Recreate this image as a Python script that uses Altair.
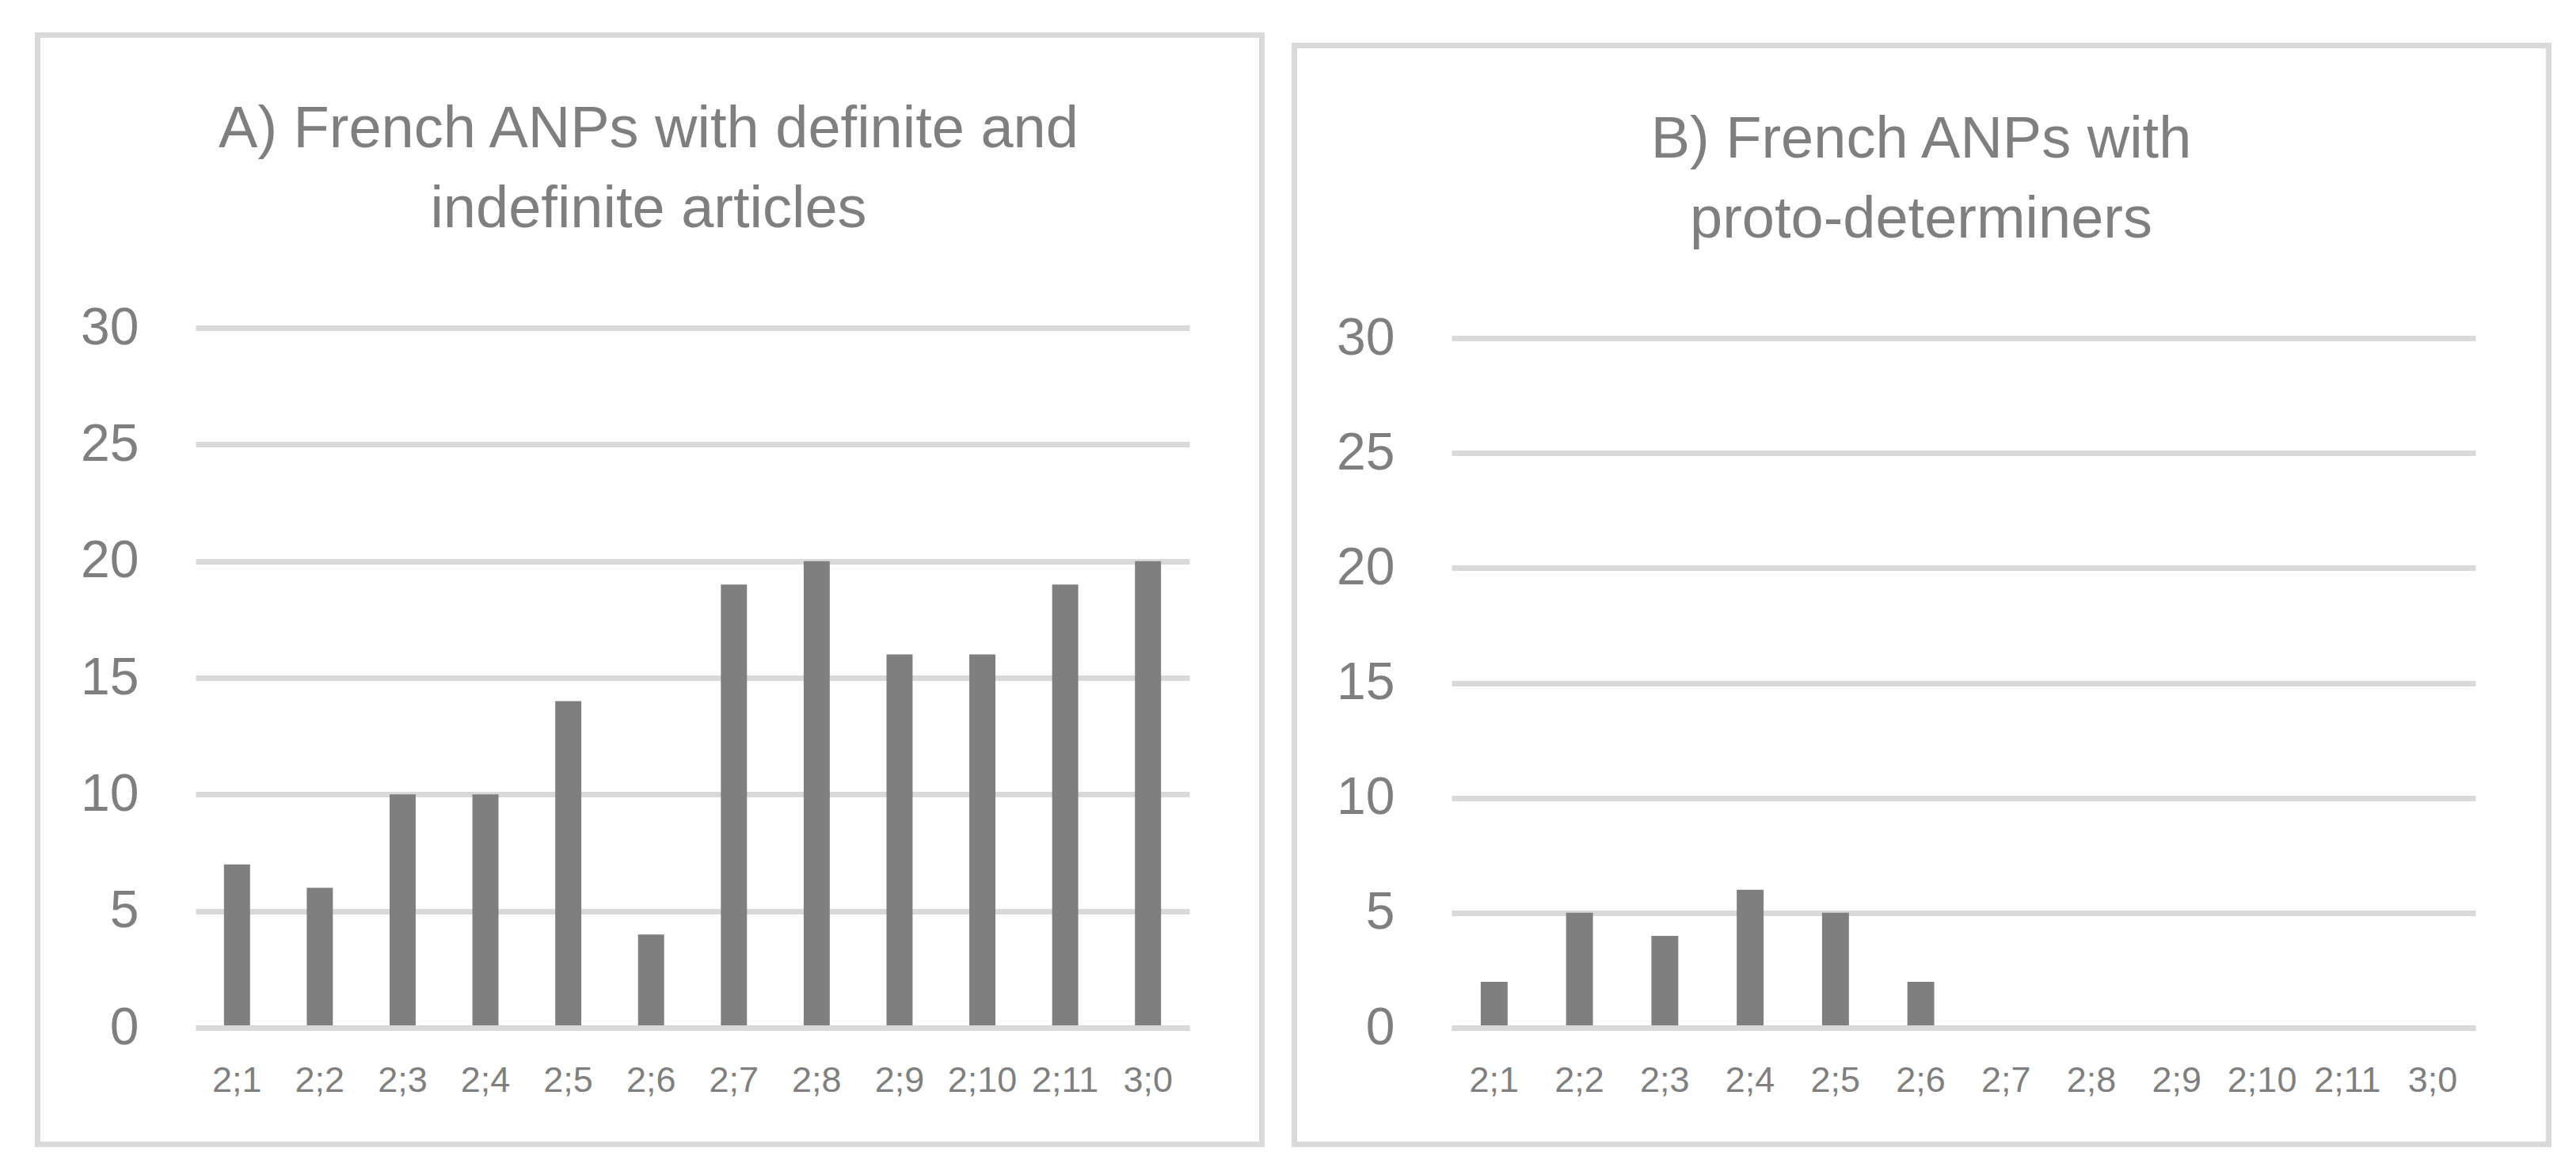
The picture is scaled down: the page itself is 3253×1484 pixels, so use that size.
import altair as alt
import pandas as pd

# ---- data ----
ages = ["2;1", "2;2", "2;3", "2;4", "2;5", "2;6", "2;7", "2;8", "2;9", "2;10", "2;11", "3;0"]
counts_a = [7, 6, 10, 10, 14, 4, 19, 20, 16, 16, 19, 20]
counts_b = [2, 5, 4, 6, 5, 2, 0, 0, 0, 0, 0, 0]
title_a = ["A) French ANPs with definite and", "indefinite articles"]
title_b = ["B) French ANPs with", "proto-determiners"]
y_ticks = [0, 5, 10, 15, 20, 25, 30]

GRAY = "#7f7f7f"
LIGHT = "#d9d9d9"
FONT = "Liberation Sans"


def panel(values, title_lines, width, height, ymax, frame, title_xy):
    df = pd.DataFrame({"age": ages, "count": values})
    bars = alt.Chart(df).mark_bar(color=GRAY).encode(
        x=alt.X(
            "age:N",
            sort=ages,
            scale=alt.Scale(paddingInner=0.685, paddingOuter=0.3425),
            axis=alt.Axis(
                title=None, labelAngle=0, labelFontSize=45, labelFont=FONT,
                labelColor=GRAY, labelPadding=44, ticks=False, tickSize=0,
                domainColor=LIGHT, domainWidth=7, grid=False,
                labelOverlap=False, zindex=1,
            ),
        ),
        y=alt.Y(
            "count:Q",
            scale=alt.Scale(domain=[0, ymax], nice=False, zero=True),
            axis=alt.Axis(
                title=None, values=y_ticks, labelFontSize=66, labelFont=FONT,
                labelColor=GRAY, labelPadding=72, ticks=False, tickSize=0,
                domain=False, grid=True, gridColor=LIGHT, gridWidth=7,
            ),
        ),
    )
    one = alt.Chart(pd.DataFrame({"k": [0]}))
    frame_mark = one.mark_rect(fill="transparent", stroke=LIGHT, strokeWidth=7).encode(
        x=alt.value(frame[0]), x2=alt.value(frame[1]),
        y=alt.value(frame[2]), y2=alt.value(frame[3]),
    )
    title_mark = one.mark_text(
        align="center", baseline="top", fontSize=74, font=FONT, color=GRAY, lineHeight=101
    ).encode(
        x=alt.value(title_xy[0]), y=alt.value(title_xy[1]), text=alt.value(title_lines)
    )
    return alt.layer(frame_mark, bars, title_mark).properties(width=width, height=height)


chart_a = panel(counts_a, title_a, 1255, 884, 30,
                (-199.5, 1346.5, -369.8, 1031.2), (572, -286))
chart_b = panel(counts_b, title_b, 1293, 884, 30 * 884 / 870.8,
                (-198.5, 1385.5, -356.6, 1031.2), (593, -273))

chart = (
    alt.hconcat(chart_a, chart_b, spacing=331, bounds="flush")
    .properties(padding={"left": 35, "top": 32, "right": 20, "bottom": 20}, background="white")
    .configure_view(stroke="transparent")
)

chart.save("out.html", embed_options={"renderer": "svg", "actions": False})
